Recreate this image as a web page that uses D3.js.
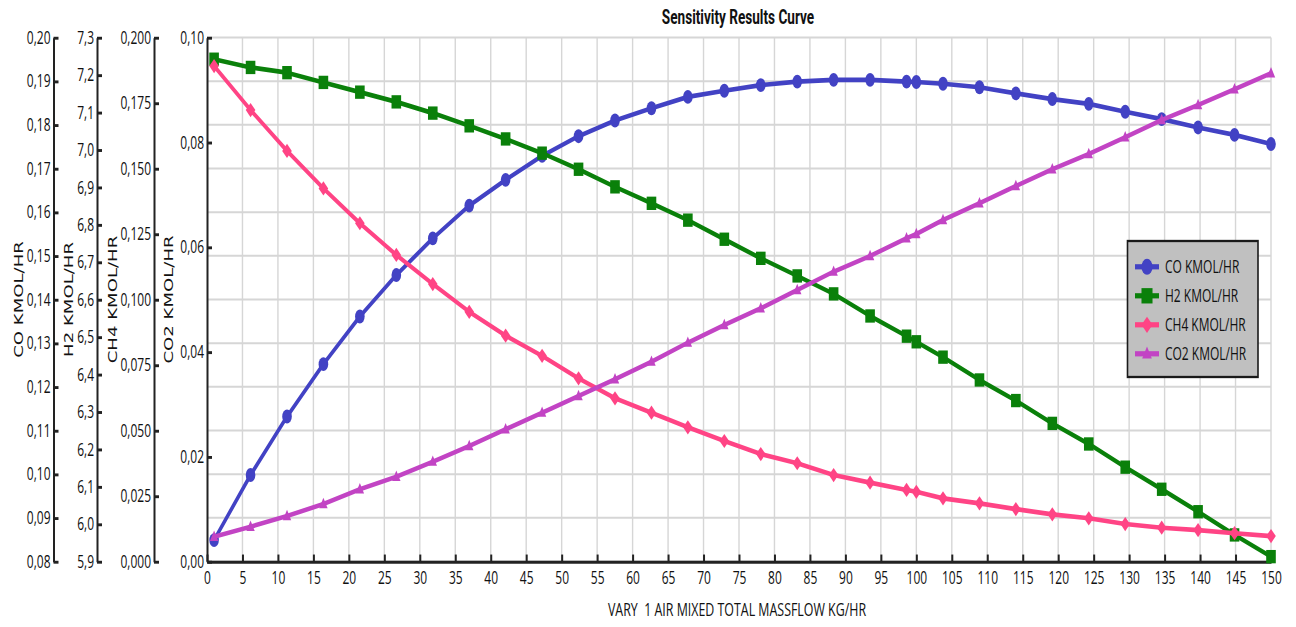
<!DOCTYPE html>
<html>
<head>
<meta charset="utf-8">
<script src="https://cdn.jsdelivr.net/npm/d3@7"></script>
<style>
  html, body { margin: 0; padding: 0; background: #fff; }
  svg { display: block; }
  text { font-family: "Open Sans", "Noto Sans", sans-serif; fill: #111; }
</style>
</head>
<body>
<svg id="chart" width="1296" height="627"></svg>
<script>
// ---- data -------------------------------------------------------------
const airFlow = [1, 6.14, 11.28, 16.41, 21.55, 26.69, 31.83, 36.97, 42.1, 47.24,
  52.38, 57.52, 62.66, 67.79, 72.93, 78.07, 83.21, 88.34, 93.48, 98.62, 100,
  103.76, 108.9, 114.03, 119.17, 124.31, 129.45, 134.59, 139.72, 144.86, 150];

const coFlow = [0.0849, 0.0998, 0.1132, 0.1252, 0.1361, 0.1456, 0.1540, 0.1615, 0.1674, 0.1729,
  0.1774, 0.1810, 0.1838, 0.1864, 0.1878, 0.1891, 0.1899, 0.1903, 0.1903, 0.1899, 0.1898,
  0.1894, 0.1886, 0.1872, 0.1859, 0.1848, 0.1830, 0.1813, 0.1794, 0.1777, 0.1756];

const h2Flow = [7.242, 7.220, 7.206, 7.180, 7.154, 7.128, 7.098, 7.064, 7.029, 6.991,
  6.948, 6.901, 6.857, 6.812, 6.761, 6.710, 6.663, 6.615, 6.556, 6.502, 6.487,
  6.446, 6.385, 6.330, 6.269, 6.214, 6.152, 6.093, 6.033, 5.971, 5.913];

const ch4Flow = [0.1891, 0.1723, 0.1567, 0.1424, 0.1291, 0.1170, 0.1059, 0.0953, 0.0862, 0.0785,
  0.0699, 0.0623, 0.0568, 0.0512, 0.0460, 0.0410, 0.0375, 0.0330, 0.0301, 0.0273, 0.0266,
  0.0241, 0.0222, 0.0200, 0.0180, 0.0165, 0.0143, 0.0129, 0.0120, 0.0108, 0.0097];

const co2Flow = [0.00473, 0.00664, 0.00868, 0.01097, 0.01378, 0.01618, 0.01905, 0.02204, 0.02523, 0.02840,
  0.03158, 0.03477, 0.03813, 0.04176, 0.04513, 0.04832, 0.05181, 0.05531, 0.05830, 0.06168, 0.06250,
  0.06517, 0.06836, 0.07166, 0.07485, 0.07777, 0.08095, 0.08426, 0.08712, 0.09011, 0.09317];

const xTicks = [0, 5, 10, 15, 20, 25, 30, 35, 40, 45, 50, 55, 60, 65, 70, 75, 80, 85, 90, 95,
  100, 105, 110, 115, 120, 125, 130, 135, 140, 145, 150];
const coTicks = [0.08, 0.09, 0.10, 0.11, 0.12, 0.13, 0.14, 0.15, 0.16, 0.17, 0.18, 0.19, 0.20];
const h2Ticks = [5.9, 6.0, 6.1, 6.2, 6.3, 6.4, 6.5, 6.6, 6.7, 6.8, 6.9, 7.0, 7.1, 7.2, 7.3];
const ch4Ticks = [0, 0.025, 0.05, 0.075, 0.1, 0.125, 0.15, 0.175, 0.2];
const co2Ticks = [0, 0.02, 0.04, 0.06, 0.08, 0.10];

const seriesNames = ["CO KMOL/HR", "H2 KMOL/HR", "CH4 KMOL/HR", "CO2 KMOL/HR"];
const seriesColors = ["#4242c4", "#0a800a", "#ff4485", "#c244c4"];

const chartTitle = "Sensitivity Results Curve";
const xTitle = "VARY  1 AIR MIXED TOTAL MASSFLOW KG/HR";

// ---- layout -------------------------------------------------------------
// The whole drawing is stretched vertically by K (tall glyphs and markers).
const K = 1.45;
const sy = v => v / K;           // screen y -> inner y
const plotLeft = 207, plotRight = 1271;
const plotTop = sy(37.5), plotBottom = sy(561.5);

const svg = d3.select("#chart");
const g = svg.append("g").attr("transform", `scale(1,${K})`);

const x = d3.scaleLinear().domain([0, 150]).range([plotLeft, plotRight]);
const yCO = d3.scaleLinear().domain([0.08, 0.20]).range([plotBottom, plotTop]);
const yH2 = d3.scaleLinear().domain([5.9, 7.3]).range([plotBottom, plotTop]);
const yCH4 = d3.scaleLinear().domain([0, 0.2]).range([plotBottom, plotTop]);
const yCO2 = d3.scaleLinear().domain([0, 0.10]).range([plotBottom, plotTop]);

const comma = f => v => d3.format(f)(v).replace(".", ",");

// ---- grid -------------------------------------------------------------
const grid = g.append("g").attr("stroke", "#d6d6d6").attr("stroke-width", 1.4);
grid.selectAll("line.h").data(coTicks).join("line")
  .attr("x1", plotLeft).attr("x2", plotRight)
  .attr("y1", d => yCO(d)).attr("y2", d => yCO(d));
grid.selectAll("line.v").data(xTicks.slice(1)).join("line")
  .attr("x1", d => x(d)).attr("x2", d => x(d))
  .attr("y1", plotTop).attr("y2", plotBottom);

// ---- axes -------------------------------------------------------------
function styleAxis(sel) {
  sel.attr("font-size", null).attr("font-family", null);
  sel.selectAll("path").attr("stroke", "#222").attr("stroke-width", 2);
  sel.selectAll("line").attr("stroke", "#222").attr("stroke-width", 2);
  sel.selectAll("text").attr("fill", "#111")
    .style("font-family", '"Open Sans", sans-serif').style("font-size", "12px");
}

const yAxes = [
  { scale: yCO, ticks: coTicks, fmt: ".2f", pos: 53.5 },
  { scale: yH2, ticks: h2Ticks, fmt: ".1f", pos: 97 },
  { scale: yCH4, ticks: ch4Ticks, fmt: ".3f", pos: 154 },
  { scale: yCO2, ticks: co2Ticks, fmt: ".2f", pos: plotLeft }
];
yAxes.forEach(a => {
  const ax = g.append("g").attr("transform", `translate(${a.pos},0)`)
    .call(d3.axisLeft(a.scale).tickValues(a.ticks).tickFormat(comma(a.fmt))
      .tickSizeInner(-5).tickSizeOuter(0).tickPadding(3));
  styleAxis(ax);
});

const xAx = g.append("g").attr("transform", `translate(0,${plotBottom})`)
  .call(d3.axisBottom(x).tickValues(xTicks).tickFormat(d3.format("d"))
    .tickSizeInner(-4.8).tickSizeOuter(0).tickPadding(7));
styleAxis(xAx);

// axis titles (rotated)
const yTitleX = [23, 72.5, 117, 172.5];
seriesNames.forEach((name, i) => {
  g.append("text")
    .attr("transform", `translate(${yTitleX[i]},${(plotTop + plotBottom) / 2}) rotate(-90)`)
    .attr("text-anchor", "middle")
    .style("font-family", '"DejaVu Sans", sans-serif')
    .style("font-size", "12.5px")
    .attr("fill", "#333")
    .text(name);
});

// chart title & x title
g.append("text")
  .attr("x", 738).attr("y", sy(24.5))
  .attr("text-anchor", "middle")
  .style("font-family", '"Roboto", sans-serif')
  .style("font-weight", "700")
  .style("font-size", "13.6px")
  .text(chartTitle);

g.append("text")
  .attr("x", 737).attr("y", sy(616))
  .attr("text-anchor", "middle")
  .style("white-space", "pre")
  .style("font-size", "12.4px")
  .text(xTitle);

// ---- series -------------------------------------------------------------
const series = [
  { values: coFlow, y: yCO, shape: "circle" },
  { values: h2Flow, y: yH2, shape: "square" },
  { values: ch4Flow, y: yCH4, shape: "diamond" },
  { values: co2Flow, y: yCO2, shape: "triangle" }
];

function marker(sel, shape, color, s = 1) {
  if (shape === "circle") {
    sel.append("circle").attr("r", 4.8 * s).attr("fill", color);
  } else if (shape === "square") {
    sel.append("rect").attr("x", -4.8 * s).attr("y", -4.6 * s)
      .attr("width", 9.6 * s).attr("height", 9.2 * s).attr("fill", color);
  } else if (shape === "diamond") {
    const a = 4.8 * s, b = 4.9 * s;
    sel.append("path").attr("d", `M0,${-b}L${a},0L0,${b}L${-a},0Z`).attr("fill", color);
  } else {
    const a = 4.2 * s, b = 3.6 * s;
    sel.append("path").attr("d", `M0,${-b * 1.2}L${a},${b * 0.8}L${-a},${b * 0.8}Z`).attr("fill", color);
  }
}

series.forEach((s, i) => {
  const color = seriesColors[i];
  const pts = airFlow.map((xv, j) => [x(xv), s.y(s.values[j])]);
  const sg = g.append("g");
  sg.append("path")
    .attr("d", d3.line()(pts))
    .attr("fill", "none").attr("stroke", color)
    .attr("stroke-width", 3.2).attr("stroke-linejoin", "round");
  sg.selectAll("g.m").data(pts).join("g")
    .attr("transform", d => `translate(${d[0]},${d[1]})`)
    .each(function () { marker(d3.select(this), s.shape, color); });
});

// ---- legend -------------------------------------------------------------
const lg = g.append("g");
lg.append("rect")
  .attr("x", 1127.5).attr("y", sy(241))
  .attr("width", 130.5).attr("height", sy(377) - sy(241))
  .attr("fill", "#c0c0c0").attr("stroke", "#1a1a1a").attr("stroke-width", 1.6);
seriesNames.forEach((name, i) => {
  const ry = sy(266.8 + i * 29);
  const row = lg.append("g").attr("transform", `translate(0,${ry})`);
  row.append("line").attr("x1", 1135).attr("x2", 1159)
    .attr("stroke", seriesColors[i]).attr("stroke-width", 3.6);
  const m = row.append("g").attr("transform", "translate(1147,0)");
  marker(m, series[i].shape, seriesColors[i], 1.15);
  row.append("text").attr("x", 1165).attr("y", 0).attr("dy", "0.36em")
    .attr("fill", seriesColors[i])
    .style("font-size", "12px")
    .text(name);
});
</script>
</body>
</html>
